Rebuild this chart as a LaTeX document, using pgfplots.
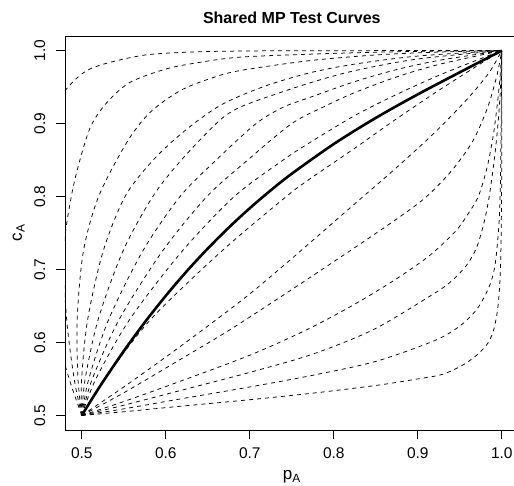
\documentclass[border=0pt]{standalone}
\usepackage{fontspec}
\setmainfont{Liberation Sans}
\usepackage{pgfplots}
\pgfplotsset{compat=1.18}
\usetikzlibrary{calc}
\tikzset{dl/.style={black, line width=0.75pt, dash pattern=on 4pt off 4pt, smooth}}
\begin{document}
\begin{tikzpicture}
\begin{axis}[
  at={(0,0)}, anchor=south west,
  width=453.6pt, height=394pt, scale only axis,
  xmin=0.48, xmax=1.02, ymin=0.48, ymax=1.02,
  xtick={0.5,0.6,0.7,0.8,0.9,1.0}, xticklabels={0.5,0.6,0.7,0.8,0.9,1.0},
  ytick={0.5,0.6,0.7,0.8,0.9,1.0}, yticklabels={0.5,0.6,0.7,0.8,0.9,1.0},
  tick pos=left, tick align=outside, major tick length=8.6pt,
  tick style={black, line width=0.8pt},
  axis line style={black, line width=0.8pt},
  ticklabel style={font=\fontsize{15.5}{18}\selectfont, inner sep=0pt},
  xticklabel style={anchor=base, yshift=-20.4pt},
  yticklabel style={anchor=base, xshift=-11.4pt, rotate=90},
  title={Shared MP Test Curves},
  title style={at={(axis description cs:0.5,1)}, anchor=base, yshift=6pt, font=\bfseries\fontsize{16}{19}\selectfont, inner sep=0pt},
  xlabel={p\textsubscript{A}},
  xlabel style={at={(axis description cs:0.5,0)}, anchor=base, yshift=-50pt, font=\fontsize{17}{20}\selectfont, inner sep=0pt},
  ylabel={c\textsubscript{A}},
  ylabel style={at={(axis description cs:-0.0948,0.5)}, anchor=base, font=\fontsize{17}{20}\selectfont, inner sep=0pt},
  clip=true,
]
% upper family
\addplot[dl] coordinates {(0.5,0.5) (0.485,0.55) (0.465,0.6315) (0.45,0.725) (0.445,0.8) (0.45,0.86) (0.46,0.905) (0.48,0.945) (0.51,0.975) (0.57,0.993) (0.63,0.998) (0.7,0.9995) (0.8,0.9999) (1,1)};
\addplot[dl] coordinates {(0.5,0.5) (0.4909,0.55) (0.482,0.6315) (0.4784,0.725) (0.4875,0.8) (0.498,0.851) (0.511,0.897) (0.53,0.929) (0.5575,0.9565) (0.601,0.975) (0.641,0.984) (0.688,0.991) (0.7695,0.995) (0.85,0.99775) (0.925,0.99925) (1,1)};
\addplot[dl] coordinates {(0.5,0.5) (0.4955,0.55) (0.4945,0.6315) (0.5019,0.725) (0.52,0.8) (0.5535,0.874) (0.581,0.915) (0.617,0.945) (0.655,0.9625) (0.688,0.9725) (0.7695,0.986) (0.85,0.994) (0.925,0.998) (1,1)};
\addplot[dl] coordinates {(0.5,0.5) (0.4998,0.55) (0.507,0.6315) (0.5254,0.725) (0.5515,0.8) (0.585,0.85) (0.6225,0.89) (0.665,0.925) (0.715,0.95) (0.7695,0.969) (0.825,0.9815) (0.9,0.9925) (1,1)};
\addplot[dl] coordinates {(0.5,0.5) (0.504,0.55) (0.5195,0.6315) (0.5489,0.725) (0.5845,0.8) (0.6185,0.85) (0.66,0.9) (0.68,0.9175) (0.705,0.93) (0.7695,0.955) (0.825,0.9725) (0.9,0.9885) (1,1)};
\addplot[dl] coordinates {(0.5,0.5) (0.5083,0.55) (0.532,0.6315) (0.5724,0.725) (0.617,0.8) (0.66,0.85) (0.7075,0.9) (0.74,0.9225) (0.7695,0.935) (0.825,0.9575) (0.875,0.974) (0.925,0.9865) (1,1)};
\addplot[dl] coordinates {(0.5,0.5) (0.5125,0.55) (0.5445,0.6315) (0.5959,0.725) (0.649,0.8) (0.6975,0.85) (0.75,0.9) (0.79,0.924) (0.825,0.9425) (0.875,0.964) (0.925,0.981) (1,1)};
\addplot[dl] coordinates {(0.5,0.5) (0.5168,0.55) (0.557,0.6315) (0.6194,0.725) (0.6815,0.8) (0.7398,0.85) (0.7695,0.8725) (0.825,0.911) (0.875,0.94) (0.925,0.966) (0.975,0.989) (1,1)};
\addplot[dl] coordinates {(0.5,0.5) (0.5275,0.55) (0.582,0.6315) (0.6664,0.725) (0.7435,0.8) (0.7695,0.8225) (0.825,0.86625) (0.875,0.90675) (0.925,0.9455) (0.975,0.98225) (1,1)};
% lower family
\addplot[dl] coordinates {(0.5,0.5) (0.55,0.539) (0.6,0.58) (0.65,0.6225) (0.7,0.6665) (0.75,0.715) (0.799,0.764) (0.831,0.796) (0.875,0.84) (0.92,0.8875) (0.96,0.935) (0.985,0.97) (1,1)};
\addplot[dl] coordinates {(0.5,0.5) (0.55,0.531) (0.617,0.5765) (0.6765,0.6175) (0.75,0.6725) (0.825,0.73) (0.879,0.7725) (0.9105,0.8) (0.94,0.835) (0.965,0.875) (0.9825,0.92) (0.994,0.965) (1,1)};
\addplot[dl] coordinates {(0.5,0.5) (0.55,0.519) (0.617,0.5467) (0.7,0.5825) (0.768,0.6175) (0.825,0.6525) (0.875,0.6875) (0.915,0.72) (0.945,0.7525) (0.958,0.773) (0.972,0.8) (0.9825,0.84) (0.99,0.885) (0.995,0.93) (0.998,0.965) (1,1)};
\addplot[dl] coordinates {(0.5,0.5) (0.55,0.514) (0.617,0.534) (0.7,0.559) (0.775,0.584) (0.847,0.6175) (0.9145,0.6635) (0.938,0.682) (0.9575,0.705) (0.97,0.73) (0.979,0.765) (0.985,0.8) (0.991,0.85) (0.9955,0.9) (0.9985,0.95) (1,1)};
\addplot[dl] coordinates {(0.5,0.5) (0.55,0.509) (0.617,0.5225) (0.7,0.539) (0.775,0.555) (0.85,0.574) (0.92,0.6025) (0.95,0.6225) (0.97,0.645) (0.9825,0.67) (0.989,0.69) (0.993,0.715) (0.9965,0.76) (0.998,0.8) (0.999,0.875) (1,1)};
\addplot[dl] coordinates {(0.5,0.5) (0.55,0.505) (0.617,0.5125) (0.7,0.5215) (0.775,0.5305) (0.85,0.541) (0.9,0.55) (0.93,0.5565) (0.955,0.57) (0.9725,0.585) (0.984,0.6) (0.991,0.62) (0.9955,0.65) (0.998,0.69) (0.99925,0.75) (1,0.85) (1,1)};
% bold curve
\addplot[black, line width=2.6pt, smooth] coordinates {(0.5,0.5) (0.5125,0.5233) (0.525,0.5458) (0.55,0.58825) (0.575,0.6276) (0.6,0.664) (0.625,0.69765) (0.65,0.72875) (0.675,0.75745) (0.7,0.784) (0.725,0.80855) (0.75,0.83125) (0.8,0.872) (0.85,0.90775) (0.9,0.94) (0.95,0.97025) (1,1)};
\coordinate (ax0) at (rel axis cs:0,0);
\end{axis}
\pgfresetboundingbox
\path[use as bounding box] ($(ax0)+(-65pt,-56pt)$) rectangle ($(ax0)+(449pt,430pt)$);
\end{tikzpicture}
\end{document}
